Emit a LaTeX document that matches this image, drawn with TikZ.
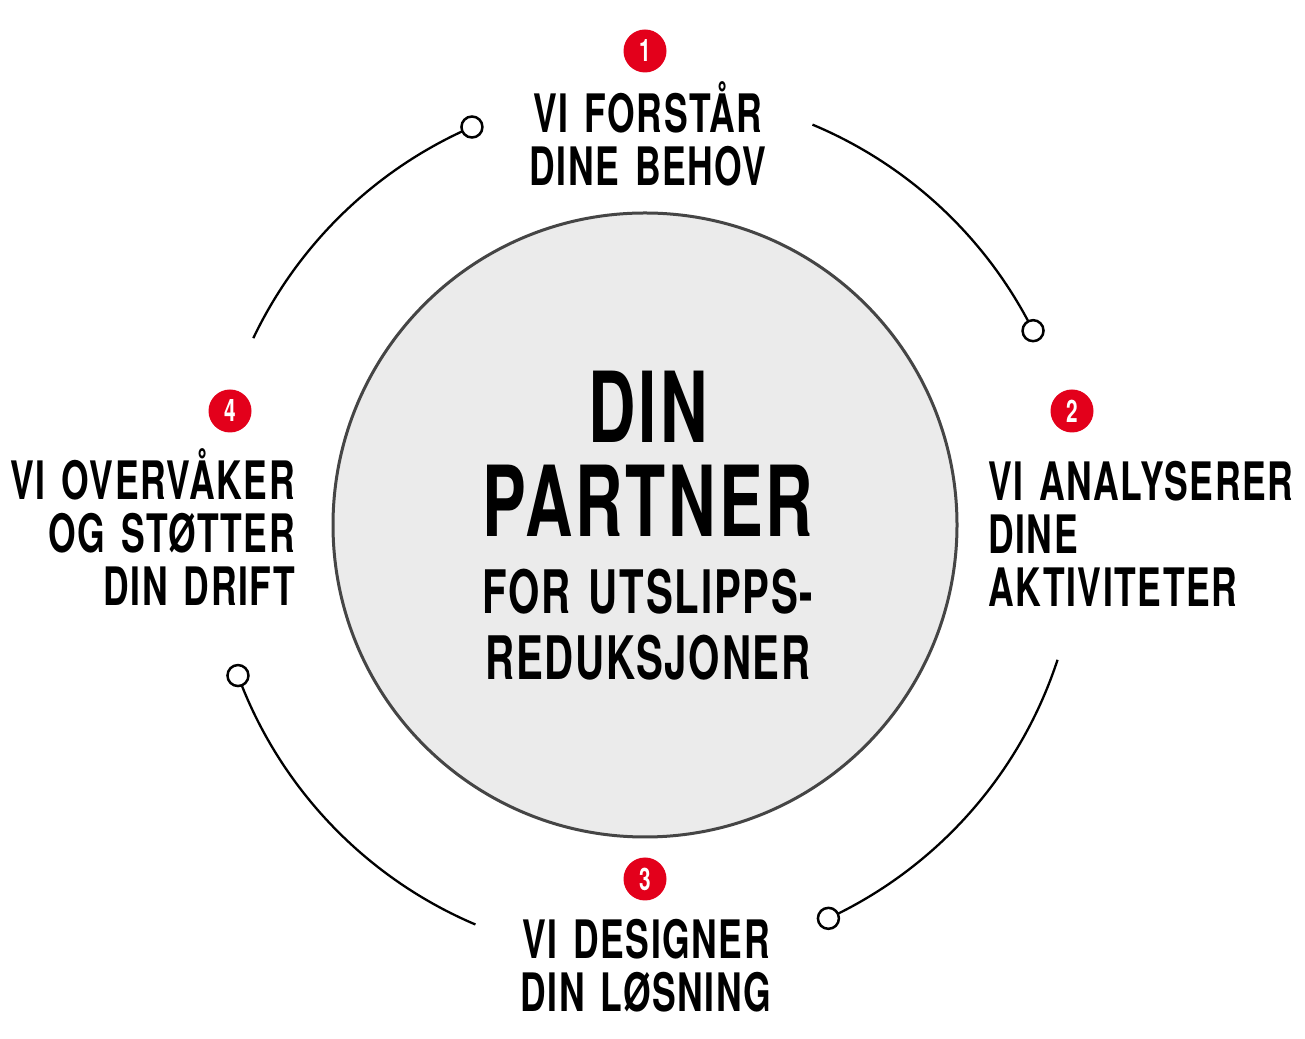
\documentclass[tikz,border=0pt]{standalone}
\usepackage{fontspec}
\setmainfont{TeX Gyre Heros}[FakeStretch=0.67, LetterSpace=3, WordSpace=1.4]
\usetikzlibrary{positioning}
\definecolor{badgered}{HTML}{E3001B}
\definecolor{hubgray}{HTML}{EBEBEB}
\definecolor{hubline}{HTML}{454545}
\tikzset{
  hub/.style = {
    circle, draw=hubline, line width=3pt, fill=hubgray, minimum size=624pt, inner sep=0pt
  },
  badge/.style = {
    circle, fill=badgered, text=white, minimum size=43pt, inner sep=0pt,
    font=\fontsize{31}{31}\selectfont\bfseries
  },
  steplabel/.style = {
    inner sep=0pt, font=\fontsize{53}{53}\selectfont\bfseries
  },
  bigtitle/.style = {
    inner sep=0pt, align=center, font=\fontsize{98}{94}\selectfont\bfseries
  },
  subtitle/.style = {
    inner sep=0pt, align=center, font=\fontsize{60}{66}\selectfont\bfseries
  },
  enddot/.style = {
    circle, draw, line width=2.5pt, fill=white, minimum size=21pt, inner sep=0pt
  },
  ring/.style = {line width=2.3pt},
}

\begin{document}
\begin{tikzpicture}[x=1pt, y=1pt]
    \useasboundingbox (0,0) rectangle (1305,1038);

    % Central circle with the title
    \node[hub] (hub) at (645,513) {};
    \node[bigtitle, anchor=base] (title) at (648,501) {DIN\\PARTNER};
    \node[subtitle, anchor=base] (subtitle) at (648,358) {FOR UTSLIPPS-\\REDUKSJONER};

    % Outer ring segments, each ending in an open dot
    \node[enddot] (dot1) at ([shift={(26.6:434)}]hub.center) {};
    \node[enddot] (dot2) at ([shift={(-65.0:434)}]hub.center) {};
    \node[enddot] (dot3) at ([shift={(200.3:434)}]hub.center) {};
    \node[enddot] (dot4) at ([shift={(113.5:434)}]hub.center) {};

    \draw[ring] ([shift={(67.3:434)}]hub.center) arc[start angle=67.3, end angle=28.0, radius=434];
    \draw[ring] ([shift={(-18.1:434)}]hub.center) arc[start angle=-18.1, end angle=-63.6, radius=434];
    \draw[ring] ([shift={(247.0:434)}]hub.center) arc[start angle=247.0, end angle=201.7, radius=434];
    \draw[ring] ([shift={(154.5:434)}]hub.center) arc[start angle=154.5, end angle=114.9, radius=434];

    % Step numbers
    \node[badge] (num1) at (645,987) {1};
    \node[badge] (num2) at (1072,627) {2};
    \node[badge] (num3) at (645,159) {3};
    \node[badge] (num4) at (230,627) {4};

    % Step labels
    \node[steplabel, align=center, anchor=base] (step1) at (648,852) {VI FORSTÅR\\DINE BEHOV};
    \node[steplabel, align=left, anchor=base west] (step2) at (988,431) {VI ANALYSERER\\DINE\\AKTIVITETER};
    \node[steplabel, align=center, anchor=base] (step3) at (646,27) {VI DESIGNER\\DIN LØSNING};
    \node[steplabel, align=right, anchor=base east] (step4) at (295,432) {VI OVERVÅKER\\OG STØTTER\\DIN DRIFT};

  \end{tikzpicture}
\end{document}
